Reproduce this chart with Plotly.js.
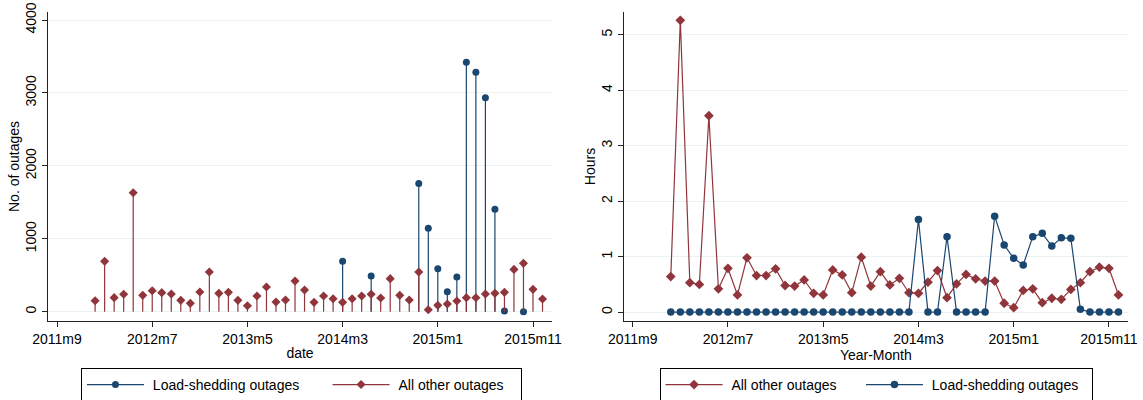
<!DOCTYPE html>
<html>
<head>
<meta charset="utf-8">
<script src="https://cdn.plot.ly/plotly-3.0.1.min.js"></script>
<style>html,body{margin:0;padding:0;background:#fff}#chart{width:1143px;height:400px}</style>
</head>
<body>
<div id="chart"></div>
<script>
// ---- data ----
var months = [
  "2012m1","2012m2","2012m3","2012m4","2012m5","2012m6","2012m7","2012m8","2012m9","2012m10","2012m11","2012m12",
  "2013m1","2013m2","2013m3","2013m4","2013m5","2013m6","2013m7","2013m8","2013m9","2013m10","2013m11","2013m12",
  "2014m1","2014m2","2014m3","2014m4","2014m5","2014m6","2014m7","2014m8","2014m9","2014m10","2014m11","2014m12",
  "2015m1","2015m2","2015m3","2015m4","2015m5","2015m6","2015m7","2015m8","2015m9","2015m10","2015m11","2015m12"
];
var tickLabels = ["2011m9","2012m7","2013m5","2014m3","2015m1","2015m11"];

// Left panel: number of outages
var countOther = [
  150, 690, 192, 238, 1632, 224, 288, 261, 242, 155, 114, 270,
  544, 251, 265, 155, 82, 215, 338, 133, 160, 420, 297, 128,
  215, 178, 128, 178, 215, 238, 187, 453, 224, 160, 544, 27,
  87, 105, 146, 192, 190, 242, 251, 265, 580, 663, 306, 174
];
var countLoadShed = [
  null, null, null, null, null, null, null, null, null, null, null, null,
  null, null, null, null, null, null, null, null, null, null, null, null,
  null, null, 690, null, null, 489, null, null, null, null, 1760, 1143,
  590, 274, 476, 3420, 3283, 2935, 1404, 9, null, 0, null, null
];
var countTicks = [0, 1000, 2000, 3000, 4000];

// Right panel: hours
var hoursOther = [
  0.64, 5.26, 0.53, 0.50, 3.54, 0.42, 0.79, 0.31, 0.98, 0.66, 0.66, 0.78,
  0.48, 0.47, 0.58, 0.34, 0.31, 0.76, 0.67, 0.35, 0.99, 0.47, 0.73, 0.49,
  0.61, 0.35, 0.34, 0.54, 0.75, 0.26, 0.51, 0.68, 0.60, 0.56, 0.56, 0.16,
  0.08, 0.39, 0.42, 0.17, 0.25, 0.23, 0.41, 0.53, 0.73, 0.81, 0.79, 0.31
];
var hoursLoadShed = [
  0, 0, 0, 0, 0, 0, 0, 0, 0, 0, 0, 0,
  0, 0, 0, 0, 0, 0, 0, 0, 0, 0, 0, 0,
  0, 0, 1.67, 0, 0, 1.36, 0, 0, 0, 0, 1.73, 1.21,
  0.97, 0.85, 1.36, 1.42, 1.19, 1.34, 1.33, 0.05, 0, 0, 0, 0
];
var hoursTicks = [0, 1, 2, 3, 4, 5];

var nameLoad = "Load-shedding outages";
var nameOther = "All other outages";

// ---- helpers ----
function tm(label) { // Stata monthly index
  var p = label.split("m");
  return (parseInt(p[0], 10) - 1960) * 12 + parseInt(p[1], 10) - 1;
}
var xm = months.map(tm);
var tickVals = tickLabels.map(tm);

var NAVY = "rgb(26,71,111)";
var MAROON = "rgb(144,53,59)";
var CLEAR = "rgba(0,0,0,0)";
var NB = "\u00A0";
function pad(s, pre, post) { return NB.repeat(pre) + s + NB.repeat(post); }

function stems(vals, color) {
  var x = [], y = [], c = [];
  for (var i = 0; i < vals.length; i++) {
    if (vals[i] === null) continue;
    x.push(xm[i], xm[i], null);
    y.push(vals[i], 0, null);
    c.push(color, CLEAR, CLEAR);
  }
  return {x: x, y: y, c: c};
}

var sBlue = stems(countLoadShed, NAVY);
var sRed = stems(countOther, MAROON);

var FONT = "Liberation Sans, Arial, Helvetica, sans-serif";

var traces = [
  {x: sBlue.x, y: sBlue.y, type: "scatter", mode: "lines+markers", name: pad(nameLoad, 1, 6),
   line: {color: NAVY, width: 1.2}, marker: {symbol: "circle", size: 7, color: sBlue.c, line: {width: 0}},
   connectgaps: false, xaxis: "x", yaxis: "y", legend: "legend", hoverinfo: "skip"},
  {x: sRed.x, y: sRed.y, type: "scatter", mode: "lines+markers", name: pad(nameOther, 1, 3),
   line: {color: MAROON, width: 1.2}, marker: {symbol: "diamond", size: 7, color: sRed.c, line: {width: 0}},
   connectgaps: false, xaxis: "x", yaxis: "y", legend: "legend", hoverinfo: "skip"},
  {x: xm, y: hoursOther, type: "scatter", mode: "lines+markers", name: pad(nameOther, 1, 5),
   line: {color: MAROON, width: 1.2}, marker: {symbol: "diamond", size: 7.5, color: MAROON},
   xaxis: "x2", yaxis: "y2", legend: "legend2"},
  {x: xm, y: hoursLoadShed, type: "scatter", mode: "lines+markers", name: pad(nameLoad, 1, 2),
   line: {color: NAVY, width: 1.2}, marker: {symbol: "circle", size: 7.5, color: NAVY},
   xaxis: "x2", yaxis: "y2", legend: "legend2"}
];

function xaxisDef(domain, anchor, title) {
  return {
    domain: domain, anchor: anchor, range: [619.05, 672.0],
    tickmode: "array", tickvals: tickVals, ticktext: tickLabels,
    ticks: "outside", ticklen: 5, tickcolor: "#222", tickwidth: 1,
    showline: true, linecolor: "#222", linewidth: 1,
    showgrid: false, zeroline: false, automargin: false,
    tickfont: {size: 14, color: "#000", family: FONT},
    title: {text: title, font: {size: 14, color: "#000", family: FONT}, standoff: 2}
  };
}
function yaxisDef(anchor, range, ticks, title) {
  return {
    anchor: anchor, domain: [0, 1], range: range,
    tickmode: "array", tickvals: ticks,
    ticks: "outside", ticklen: 5, tickcolor: "#222", tickwidth: 1, tickangle: -90,
    showline: true, linecolor: "#222", linewidth: 1,
    showgrid: true, gridcolor: "rgb(234,242,243)", gridwidth: 1, zeroline: false, automargin: false,
    tickfont: {size: 14, color: "#000", family: FONT},
    title: {text: title, font: {size: 14, color: "#000", family: FONT}, standoff: 0}
  };
}

var legendBase = {
  orientation: "h", xanchor: "center", yanchor: "top", y: -0.152,
  bordercolor: "#000", borderwidth: 1, bgcolor: "#fff",
  font: {size: 14, color: "#000", family: FONT}, itemwidth: 57, traceorder: "normal"
};

var layout = {
  width: 1143, height: 400,
  margin: {l: 48, r: 15, t: 12, b: 79, autoexpand: false},
  paper_bgcolor: "#fff", plot_bgcolor: "#fff",
  font: {family: FONT, size: 14, color: "#000"},
  showlegend: true,
  xaxis: xaxisDef([0, 0.4667], "y", "date"),
  yaxis: yaxisDef("x", [-128, 4111], countTicks, "No. of outages"),
  xaxis2: xaxisDef([0.533, 1], "y2", "Year-Month"),
  yaxis2: yaxisDef("x2", [-0.16, 5.41], hoursTicks, "Hours"),
  legend: Object.assign({}, legendBase, {x: 0.2347}),
  legend2: Object.assign({}, legendBase, {x: 0.7667})
};

Plotly.newPlot("chart", traces, layout, {displayModeBar: false, staticPlot: true});
</script>
</body>
</html>
